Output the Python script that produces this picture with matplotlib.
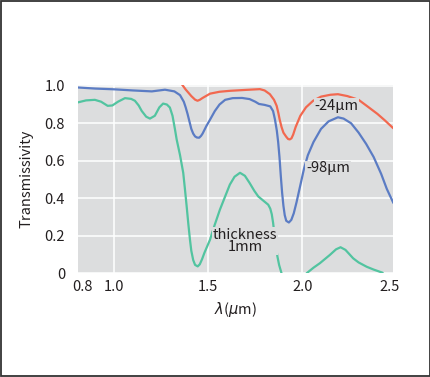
import matplotlib
matplotlib.use("Agg")
import matplotlib.pyplot as plt
from matplotlib.patches import Rectangle

plt.rcParams['font.family'] = ['Noto Sans CJK JP', 'DejaVu Sans']
plt.rcParams['mathtext.fontset'] = 'dejavusans'

# -98um sample
wl_98 = [0.805, 0.90, 1.00, 1.10, 1.20, 1.27, 1.32, 1.35, 1.37, 1.38, 1.39, 1.40, 1.41,
         1.42, 1.43, 1.44, 1.452, 1.462, 1.47, 1.49, 1.51, 1.535, 1.56, 1.59, 1.63,
         1.68, 1.72, 1.75, 1.77, 1.80, 1.83, 1.845, 1.855, 1.865, 1.872, 1.879, 1.886,
         1.893, 1.90, 1.907, 1.915, 1.929, 1.942, 1.955, 1.97, 1.99, 2.01, 2.03, 2.06,
         2.10, 2.14, 2.19, 2.22, 2.26, 2.30, 2.34, 2.38, 2.42, 2.45, 2.485]
t_98 = [0.991, 0.985, 0.981, 0.975, 0.970, 0.979, 0.970, 0.950, 0.915, 0.885, 0.85, 0.81,
        0.77, 0.745, 0.73, 0.724, 0.723, 0.733, 0.745, 0.785, 0.82, 0.865, 0.90, 0.925,
        0.934, 0.935, 0.929, 0.915, 0.903, 0.898, 0.890, 0.865, 0.82, 0.76, 0.70, 0.62,
        0.52, 0.43, 0.36, 0.31, 0.28, 0.271, 0.285, 0.32, 0.38, 0.47, 0.56, 0.63, 0.70,
        0.77, 0.81, 0.832, 0.825, 0.80, 0.75, 0.69, 0.62, 0.53, 0.45, 0.375]

# -24um sample
wl_24 = [1.356, 1.38, 1.41, 1.43, 1.443, 1.455, 1.47, 1.51, 1.56, 1.615, 1.70, 1.775,
         1.80, 1.828, 1.85, 1.864, 1.873, 1.88, 1.89, 1.90, 1.915, 1.925, 1.934, 1.943,
         1.952, 1.965, 1.99, 2.02, 2.058, 2.10, 2.15, 2.19, 2.24, 2.30, 2.343, 2.40,
         2.44, 2.485]
t_24 = [1.013, 0.98, 0.945, 0.926, 0.92, 0.925, 0.935, 0.958, 0.968, 0.973, 0.978, 0.982,
        0.975, 0.955, 0.925, 0.893, 0.855, 0.82, 0.78, 0.75, 0.728, 0.716, 0.714, 0.72,
        0.74, 0.78, 0.84, 0.885, 0.92, 0.942, 0.952, 0.955, 0.945, 0.925, 0.893, 0.85,
        0.815, 0.773]

# thickness 1mm (two pieces, the curve runs off the bottom in between)
wl_1mm_a = [0.805, 0.85, 0.897, 0.93, 0.965, 0.99, 1.02, 1.057, 1.09, 1.11, 1.13, 1.146,
            1.17, 1.19, 1.216, 1.24, 1.26, 1.28, 1.296, 1.31, 1.323, 1.332, 1.35, 1.367,
            1.376, 1.385, 1.394, 1.403, 1.41, 1.42, 1.43, 1.444, 1.455, 1.467, 1.48,
            1.509, 1.535, 1.562, 1.59, 1.615, 1.64, 1.669, 1.695, 1.72, 1.745, 1.766,
            1.79, 1.819, 1.83, 1.838, 1.845, 1.852, 1.86, 1.868, 1.877, 1.89]
t_1mm_a = [0.911, 0.922, 0.925, 0.915, 0.893, 0.895, 0.915, 0.934, 0.93, 0.92, 0.895, 0.866,
           0.835, 0.825, 0.84, 0.885, 0.905, 0.90, 0.884, 0.84, 0.768, 0.714, 0.63, 0.536,
           0.45, 0.36, 0.265, 0.178, 0.12, 0.071, 0.045, 0.037, 0.048, 0.075, 0.11,
           0.178, 0.26, 0.339, 0.41, 0.473, 0.515, 0.536, 0.52, 0.482, 0.44, 0.41,
           0.39, 0.366, 0.345, 0.315, 0.27, 0.21, 0.145, 0.09, 0.045, 0.0]
wl_1mm_b = [2.023, 2.06, 2.094, 2.147, 2.18, 2.204, 2.23, 2.271, 2.30, 2.343, 2.38, 2.428]
t_1mm_b = [0.0, 0.03, 0.054, 0.098, 0.128, 0.139, 0.125, 0.08, 0.058, 0.035, 0.02, 0.003]

y_ticks = [0, 0.2, 0.4, 0.6, 0.8, 1.0]
y_labels = ['0', '0.2', '0.4', '0.6', '0.8', '1.0']
x_ticks = [1.0, 1.5, 2.0]
x_labels = ['1.0', '1.5', '2.0']
x_edge_ticks = [0.832, 2.466]
x_edge_labels = ['0.8', '2.5']

RED = '#f2684f'
BLUE = '#5b7cc4'
GREEN = '#52c4a0'
BG = '#dcddde'
TXT = '#231f20'

fig = plt.figure(figsize=(4.31, 3.77), dpi=100)
ax = fig.add_axes([0.180, 0.275, 0.731, 0.500])
ax.set_facecolor(BG)
for s in ax.spines.values():
    s.set_visible(False)

line_kw = dict(lw=1.6, zorder=3, solid_joinstyle='round', solid_capstyle='round')
ax.plot(wl_24, t_24, color=RED, **line_kw)
ax.plot(wl_98, t_98, color=BLUE, **line_kw)
ax.plot(wl_1mm_a, t_1mm_a, color=GREEN, **line_kw)
ax.plot(wl_1mm_b, t_1mm_b, color=GREEN, **line_kw)

ax.set_xlim(0.805, 2.481)
ax.set_ylim(0, 1.005)
ax.set_yticks(y_ticks, y_labels)
ax.set_xticks(x_ticks, x_labels)
ax.set_xticks(x_edge_ticks, x_edge_labels, minor=True)
ax.tick_params(which='both', length=0, labelsize=10.5, colors=TXT)
ax.tick_params(axis='x', which='both', pad=5)
ax.tick_params(axis='y', pad=9)
ax.grid(True, which='major', color='white', lw=1.1, zorder=1)
ax.set_axisbelow(True)

ax.set_ylabel('Transmissivity', fontsize=10.5, color=TXT, labelpad=8)
ax.set_xlabel(r'$\lambda$($\mu$m)', fontsize=10.5, color=TXT, labelpad=4)

box = dict(facecolor=BG, edgecolor='none', pad=0.5)
ax.text(2.183, 0.893, '-24μm', fontsize=10.5, color=TXT, ha='center', va='center',
        bbox=box, zorder=4)
ax.text(2.138, 0.56, '-98μm', fontsize=10.5, color=TXT, ha='center', va='center',
        bbox=box, zorder=4)
ax.text(1.695, 0.173, 'thickness\n1mm', fontsize=10.5, color=TXT, ha='center',
        va='center', linespacing=0.85, bbox=box, zorder=4)

fig.patches.append(Rectangle((0.002, 0.003), 0.995, 0.994, transform=fig.transFigure,
                             fill=False, edgecolor='#333333', lw=1.3))

fig.savefig('out.png', dpi=100, facecolor='white')
